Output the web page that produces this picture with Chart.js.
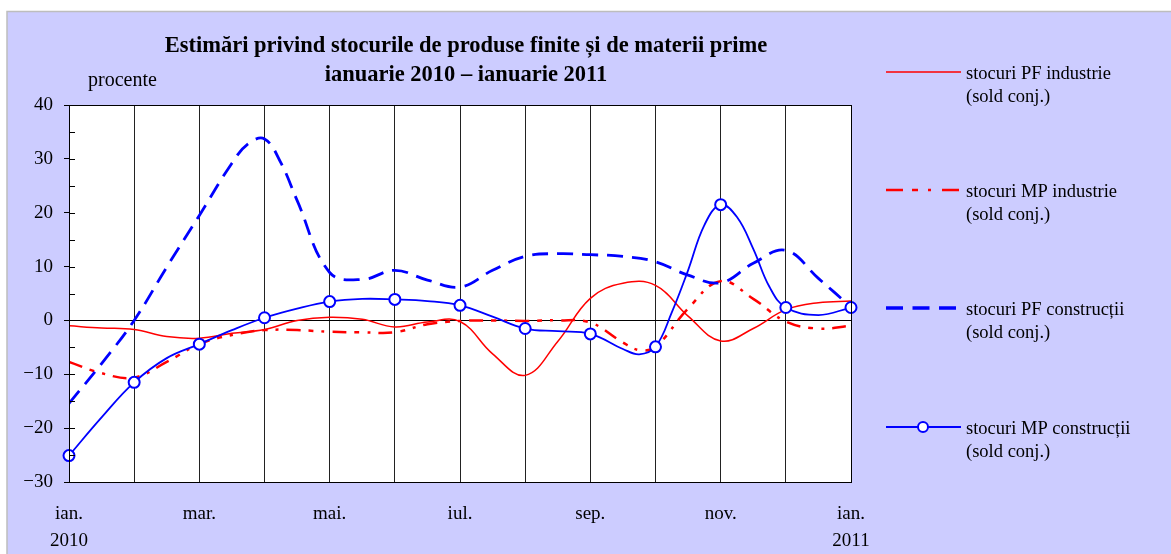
<!DOCTYPE html>
<html><head><meta charset="utf-8">
<script src="https://cdn.jsdelivr.net/npm/chart.js@4"></script>
<style>html,body{margin:0;padding:0;background:#fff}canvas{display:block}</style>
</head><body>
<canvas id="c" width="1171" height="554"></canvas>
<script>
// ---- data ----
const monthLabels = ['ian.','feb.','mar.','apr.','mai.','iun.','iul.','aug.','sep.','oct.','nov.','dec.','ian.'];
const yearLabels = {0:'2010', 12:'2011'};
const titleLines = ['Estimări privind stocurile de produse finite și de materii prime','ianuarie 2010 – ianuarie 2011'];
const unitLabel = 'procente';
const seriesNames = ['stocuri PF industrie','stocuri MP industrie','stocuri PF construcții','stocuri MP construcții'];
const seriesNote = '(sold conj.)';

// time positions in months from ian. 2010 (0) to ian. 2011 (12)
const pfIndT = [0,0.5,1,1.5,2,2.5,3,3.5,4,4.5,5,5.5,6,6.5,7,7.5,8,8.5,9,9.5,10,10.5,11,11.5,12];
const pfIndV = [-1.0,-1.4,-1.7,-3.0,-3.3,-2.4,-1.7,0.0,0.6,0.2,-1.2,-0.3,-0.2,-6.2,-10.2,-3.9,4.1,6.9,6.5,0.8,-3.8,-1.5,2.0,3.3,3.6];

const mpIndT = [0,0.5,1,1.5,2,2.5,3,3.5,4,4.5,5,5.5,6,6.5,7,7.5,8,8.5,8.75,9,9.5,10,10.5,11,11.5,12];
const mpIndV = [-7.7,-9.8,-10.6,-7.7,-4.4,-2.7,-1.8,-1.8,-2.1,-2.2,-2.2,-0.7,-0.1,0.0,-0.1,0.0,-0.4,-4.1,-5.5,-4.9,2.2,7.3,4.0,-0.2,-1.5,-1.0];

const pfConT = [0,0.5,1,1.5,2,2.5,2.75,3,3.25,3.5,4,4.5,5,5.5,6,6.5,7,7.5,8,8.5,9,9.5,10,10.5,11,11.5,12];
const pfConV = [-15.4,-8.0,0.0,9.9,19.5,29.2,32.8,33.7,29.3,22.3,8.9,7.6,9.3,7.5,6.2,9.3,11.9,12.4,12.2,11.9,10.9,8.4,7.0,10.6,13.0,7.8,2.5];

const mpConT = [0,0.5,1,1.5,2,2.5,3,3.5,4,4.5,5,5.5,6,6.5,7,7.5,8,8.5,8.75,9,9.25,9.5,9.75,10,10.25,10.5,10.75,11,11.5,12];
const mpConV = [-25.1,-18.0,-11.5,-7.0,-4.4,-1.8,0.5,2.2,3.5,4.0,3.9,3.6,2.8,0.7,-1.5,-2.0,-2.5,-5.3,-6.3,-4.9,1.5,9.3,17.7,21.5,19.2,13.3,6.2,2.4,1.0,2.4];

const yMin = -30, yMax = 40, yStep = 10, yMinorStep = 5;

// ---- helpers ----
const pts = (t, v) => t.map((x, i) => ({x, y: v[i]}));
const RED = '#ff0000', BLUE = '#0000ff';
const FONT = "'Liberation Serif', 'Times New Roman', serif";

const styles = [
  {color: RED, width: 1.5, dash: [], legendDash: [], legendWidth: 1.5},
  {color: RED, width: 2.5, dash: [14,8,5,8,3,8], legendDash: [17,9,6,10,3,11], legendWidth: 2.5},
  {color: BLUE, width: 2.8, dash: [16,9], legendDash: [17,9.5], legendWidth: 3.5},
  {color: BLUE, width: 1.8, dash: [], legendDash: [], legendWidth: 1.8, marker: true}
];

const datasets = [
  {label: seriesNames[0], data: pts(pfIndT, pfIndV), order: 3},
  {label: seriesNames[1], data: pts(mpIndT, mpIndV), order: 2},
  {label: seriesNames[2], data: pts(pfConT, pfConV), order: 1},
  {label: seriesNames[3], data: pts(mpConT, mpConV), order: 0}
].map((d, i) => {
  const s = styles[i];
  return Object.assign(d, {
    borderColor: s.color, borderWidth: s.width, borderDash: s.dash,
    backgroundColor: '#fff', fill: false, tension: 0.4,
    pointRadius: s.marker ? (c => Number.isInteger(c.raw && c.raw.x) ? 5.5 : 0) : 0,
    pointBorderColor: s.color, pointBackgroundColor: '#fff', pointBorderWidth: 2,
    clip: s.marker ? false : undefined
  });
});

const decor = {
  id: 'decor',
  beforeDraw(chart) {
    const ctx = chart.ctx, a = chart.chartArea;
    ctx.save();
    ctx.fillStyle = '#fff';
    ctx.fillRect(0, 0, chart.width, chart.height);
    ctx.fillStyle = '#ccccff';
    ctx.fillRect(7, 11, chart.width - 7, chart.height - 11);
    ctx.strokeStyle = '#bdbdbd';
    ctx.lineWidth = 1.5;
    ctx.beginPath();
    ctx.moveTo(7, chart.height); ctx.lineTo(7, 11.5); ctx.lineTo(chart.width, 11.5);
    ctx.stroke();
    ctx.fillStyle = '#fff';
    ctx.fillRect(a.left, a.top, a.right - a.left, a.bottom - a.top);
    ctx.restore();
  },
  afterDraw(chart) {
    const ctx = chart.ctx, a = chart.chartArea, ys = chart.scales.y;
    ctx.save();
    // frame
    ctx.strokeStyle = '#000'; ctx.lineWidth = 1;
    ctx.strokeRect(Math.round(a.left) + 0.5, Math.round(a.top) + 0.5, Math.round(a.right - a.left), Math.round(a.bottom - a.top));
    // inner tick marks (major and minor)
    ctx.beginPath();
    for (let v = yMin + yMinorStep; v < yMax; v += yMinorStep) {
      const y = Math.round(ys.getPixelForValue(v)) + 0.5;
      ctx.moveTo(a.left, y); ctx.lineTo(a.left + 6, y);
    }
    ctx.stroke();
    // title
    ctx.fillStyle = '#000';
    ctx.textAlign = 'center'; ctx.textBaseline = 'alphabetic';
    ctx.font = 'bold 22.5px ' + FONT;
    ctx.fillText(titleLines[0], 466, 52);
    ctx.fillText(titleLines[1], 466, 81);
    ctx.textAlign = 'left';
    ctx.font = '20px ' + FONT;
    ctx.fillText(unitLabel, 88, 86);
    // legend
    const ly = [72, 190, 308, 427];
    styles.forEach((s, i) => {
      const y = ly[i];
      ctx.strokeStyle = s.color; ctx.lineWidth = s.legendWidth;
      ctx.setLineDash(s.legendDash);
      ctx.beginPath(); ctx.moveTo(886, y); ctx.lineTo(s.legendDash.length ? 960 : 961, y); ctx.stroke();
      ctx.setLineDash([]);
      if (s.marker) {
        ctx.beginPath(); ctx.arc(923, y, 5, 0, Math.PI * 2);
        ctx.fillStyle = '#fff'; ctx.fill();
        ctx.lineWidth = 2; ctx.strokeStyle = s.color; ctx.stroke();
      }
      ctx.fillStyle = '#000';
      ctx.font = '18.5px ' + FONT;
      ctx.textBaseline = 'middle';
      ctx.fillText(seriesNames[i], 966, y + 2);
      ctx.fillText(seriesNote, 966, y + 25);
    });
    ctx.restore();
  }
};

new Chart(document.getElementById('c'), {
  type: 'line',
  data: {datasets},
  plugins: [decor],
  options: {
    responsive: false, animation: false, devicePixelRatio: 1,
    layout: {padding: {left: 0, top: 105, right: 320, bottom: 0}},
    plugins: {legend: {display: false}, title: {display: false}, tooltip: {enabled: false}},
    scales: {
      x: {
        type: 'linear', min: 0, max: 12,
        afterFit: s => { s.height = 72; },
        afterBuildTicks: s => { s.ticks = monthLabels.map((_, i) => ({value: i})); },
        grid: {color: '#222', lineWidth: 1, drawTicks: false, drawOnChartArea: true},
        border: {display: true, color: '#000'},
        ticks: {
          autoSkip: false, maxRotation: 0, padding: 18, color: '#000',
          font: {family: FONT, size: 19, lineHeight: 1.45},
          callback: v => (v % 2 === 0) ? (yearLabels[v] ? [monthLabels[v], yearLabels[v]] : monthLabels[v]) : ''
        }
      },
      y: {
        min: yMin, max: yMax,
        afterFit: s => { s.width = 69; },
        grid: {
          color: c => (c.tick && c.tick.value === 0) ? '#000' : 'rgba(0,0,0,0)',
          tickColor: '#000', tickLength: 5, lineWidth: 1
        },
        border: {display: true, color: '#000'},
        ticks: {
          stepSize: yStep, padding: 11, color: '#000',
          font: {family: FONT, size: 19},
          callback: v => v < 0 ? '\u2212' + Math.abs(v) : String(v)
        }
      }
    }
  }
});
</script>
</body></html>
